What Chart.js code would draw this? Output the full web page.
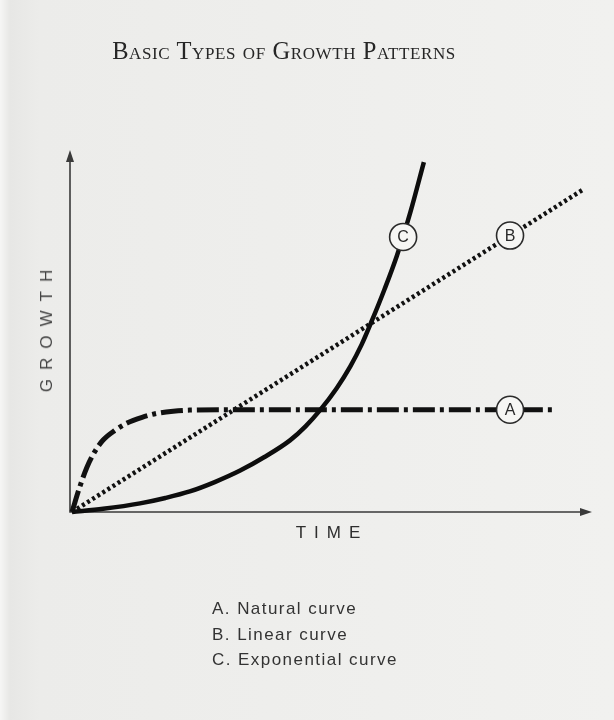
<!DOCTYPE html>
<html>
<head>
<meta charset="utf-8">
<script src="https://cdn.jsdelivr.net/npm/chart.js@4/dist/chart.umd.min.js"></script>
<style>
  html, body { margin:0; padding:0; }
  body { width:614px; height:720px; position:relative; overflow:hidden;
         background: linear-gradient(to right, #f6f6f5 0px, #e7e7e5 10px, #ececea 40px, #f1f1ef 614px); }
  #c { position:absolute; left:0; top:0; }
  .t { position:absolute; white-space:nowrap; }
  #title { left:0; width:568px; top:37px; text-align:center; font-family:"Liberation Serif", serif;
           font-variant:small-caps; font-size:24.5px; color:#262626; letter-spacing:0.6px; }
  #ylab { left:47px; top:331px; transform:translate(-50%,-50%) rotate(-90deg); font-family:"Liberation Sans", Arial, sans-serif;
          font-size:17px; letter-spacing:9px; padding-left:9px; color:#444; }
  #xlab { left:328px; top:533px; transform:translate(-50%,-50%); font-family:"Liberation Sans", Arial, sans-serif;
          font-size:17px; letter-spacing:8px; padding-left:8px; color:#2e2e2e; }
  .leg { left:212px; font-family:"Liberation Sans", Arial, sans-serif; font-size:17px; letter-spacing:1.45px; color:#333; }
</style>
</head>
<body>
<canvas id="c" width="614" height="720"></canvas>
<div id="title" class="t">Basic Types of Growth Patterns</div>
<div id="ylab" class="t">GROWTH</div>
<div id="xlab" class="t">TIME</div>
<div id="legend"></div>
<script>
// Natural curve (A)
const timeA = [0, 1.5, 2.9, 4.4, 6.0, 8.2, 10.6, 13.5, 16.4, 19.5, 22.7, 30, 40, 60, 80, 93];
const growthA = [0, 7, 12.5, 16.8, 20, 22.6, 24.7, 26.3, 27.4, 28.0, 28.3, 28.4, 28.4, 28.4, 28.4, 28.4];
// Linear curve (B)
const timeB = [0, 98.3];
const growthB = [0, 89.4];
// Exponential curve (C)
const timeC = [0, 6, 13.1, 18, 22.7, 27.5, 32.4, 37, 42, 45, 47.8, 51, 53.6, 55.8, 57.8, 60.2, 62.6, 65.2, 67.8];
const growthC = [0, 0.9, 2.4, 3.9, 5.7, 8.3, 11.5, 15.2, 19.9, 23.8, 28.3, 34.4, 40.4, 46.5, 53.2, 61.8, 71.2, 83.3, 97.2];
// Curve markers
const markerLabels = ['A', 'B', 'C'];
const markerTime = [84.4, 84.4, 63.8];
const markerGrowth = [28.4, 76.8, 76.4];
// Legend
const legendItems = ['A. Natural curve', 'B. Linear curve', 'C. Exponential curve'];

const legendTops = [599, 625, 650];
const legendEl = document.getElementById('legend');
legendItems.forEach((s, i) => {
  const d = document.createElement('div');
  d.className = 't leg';
  d.style.top = legendTops[i] + 'px';
  d.textContent = s;
  legendEl.appendChild(d);
});

const pts = (xs, ys) => xs.map((x, i) => ({x, y: ys[i]}));

const axesPlugin = {
  id: 'axesArrows',
  beforeDatasetsDraw(chart) {
    const {ctx} = chart;
    const xs = chart.scales.x, ys = chart.scales.y;
    const x0 = xs.getPixelForValue(0), y0 = ys.getPixelForValue(0);
    const x1 = xs.getPixelForValue(100), y1 = ys.getPixelForValue(100);
    ctx.save();
    ctx.strokeStyle = '#3a3a3a';
    ctx.fillStyle = '#3a3a3a';
    ctx.lineWidth = 1.6;
    ctx.beginPath();
    ctx.moveTo(x0 - 2, y1 + 6); ctx.lineTo(x0 - 2, y0);
    ctx.lineTo(x1 - 6, y0);
    ctx.stroke();
    ctx.beginPath();
    ctx.moveTo(x0 - 2, y1 - 2); ctx.lineTo(x0 - 6, y1 + 10); ctx.lineTo(x0 + 2, y1 + 10); ctx.closePath(); ctx.fill();
    ctx.beginPath();
    ctx.moveTo(x1 + 1, y0); ctx.lineTo(x1 - 11, y0 - 4); ctx.lineTo(x1 - 11, y0 + 4); ctx.closePath(); ctx.fill();
    ctx.restore();
  },
  afterDatasetsDraw(chart) {
    const {ctx} = chart;
    const xs = chart.scales.x, ys = chart.scales.y;
    ctx.save();
    ctx.font = '16px "Liberation Sans", Arial, sans-serif';
    ctx.fillStyle = '#2a2a2a';
    ctx.textAlign = 'center';
    ctx.textBaseline = 'middle';
    markerLabels.forEach((l, i) => {
      ctx.fillText(l, xs.getPixelForValue(markerTime[i]), ys.getPixelForValue(markerGrowth[i]) + 1);
    });
    ctx.restore();
  }
};

new Chart(document.getElementById('c'), {
  type: 'scatter',
  data: {
    datasets: [
      {
        label: 'markers',
        data: pts(markerTime, markerGrowth),
        showLine: false,
        pointStyle: 'circle',
        pointRadius: 13.5,
        pointBackgroundColor: '#f6f6f4',
        pointBorderColor: '#2a2a2a',
        pointBorderWidth: 1.6,
        order: 0
      },
      {
        label: 'A. Natural curve',
        data: pts(timeA, growthA),
        showLine: true,
        borderColor: '#111',
        borderWidth: 5,
        borderDash: [22, 5, 4, 5],
        borderCapStyle: 'butt',
        cubicInterpolationMode: 'monotone',
        pointRadius: 0,
        clip: false,
        order: 3
      },
      {
        label: 'B. Linear curve',
        data: pts(timeB, growthB),
        showLine: true,
        borderColor: '#111',
        borderWidth: 4.5,
        borderDash: [3, 3],
        borderCapStyle: 'butt',
        pointRadius: 0,
        clip: false,
        order: 2
      },
      {
        label: 'C. Exponential curve',
        data: pts(timeC, growthC),
        showLine: true,
        borderColor: '#0d0d0d',
        borderWidth: 4.5,
        borderCapStyle: 'butt',
        cubicInterpolationMode: 'monotone',
        pointRadius: 0,
        clip: false,
        order: 1
      }
    ]
  },
  options: {
    responsive: false,
    animation: false,
    layout: { padding: { left: 72, top: 152, right: 23, bottom: 208 } },
    scales: {
      x: { type: 'linear', min: 0, max: 100, display: false },
      y: { type: 'linear', min: 0, max: 100, display: false }
    },
    plugins: { legend: { display: false }, tooltip: { enabled: false }, title: { display: false } }
  },
  plugins: [axesPlugin]
});
</script>
</body>
</html>
